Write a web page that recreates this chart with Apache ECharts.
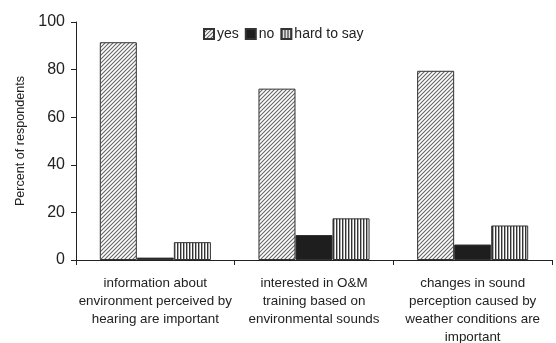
<!DOCTYPE html>
<html>
<head>
<meta charset="utf-8">
<script src="https://cdn.jsdelivr.net/npm/echarts@6/dist/echarts.min.js"></script>
<style>
html, body { margin: 0; padding: 0; background: #fff; }
#chart { width: 556px; height: 343px; }
</style>
</head>
<body>
<div id="chart"></div>
<script>
var categories = [
    'information about\nenvironment perceived by\nhearing are important',
    'interested in O&M\ntraining based on\nenvironmental sounds',
    'changes in sound\nperception caused by\nweather conditions are\nimportant'
];
var yesValues = [91.5, 72, 79.5];
var noValues = [1, 10.5, 6.5];
var hardValues = [7.5, 17.5, 14.5];
var yTicks = [0, 20, 40, 60, 80, 100];

function makePattern(kind) {
    var c = document.createElement('canvas');
    var ctx = c.getContext('2d');
    if (kind === 'diag') {
        c.width = 4; c.height = 4;
        ctx.fillStyle = '#fff';
        ctx.fillRect(0, 0, 4, 4);
        ctx.strokeStyle = '#666';
        ctx.lineWidth = 1.1;
        ctx.beginPath();
        ctx.moveTo(0, 4); ctx.lineTo(4, 0);
        ctx.moveTo(-1, 1); ctx.lineTo(1, -1);
        ctx.moveTo(3, 5); ctx.lineTo(5, 3);
        ctx.stroke();
    } else {
        c.width = 3; c.height = 3;
        ctx.fillStyle = '#fff';
        ctx.fillRect(0, 0, 3, 3);
        ctx.fillStyle = '#333';
        ctx.fillRect(0, 0, 1.4, 3);
    }
    return { image: c, repeat: 'repeat' };
}

var diag = makePattern('diag');
var vert = makePattern('vert');

var chart = echarts.init(document.getElementById('chart'));
var font = '"Liberation Sans", Arial, sans-serif';

var option = {
    animation: false,
    textStyle: { fontFamily: font, color: '#222' },
    legend: {
        left: 198,
        top: 22,
        itemWidth: 10,
        itemHeight: 10,
        itemGap: 6,
        icon: 'rect',
        textStyle: { fontSize: 14, color: '#222', padding: [0, 0, 0, -2] },
        data: ['yes', 'no', 'hard to say']
    },
    grid: { left: 76, right: 4, top: 22, bottom: 83, outerBoundsMode: 'none', containLabel: false },
    xAxis: {
        type: 'category',
        data: categories,
        axisLine: { lineStyle: { color: '#222', width: 1 } },
        axisTick: { show: true, length: 5, lineStyle: { color: '#222' } },
        axisLabel: { fontSize: 13.4, color: '#222', lineHeight: 18, margin: 14, interval: 0 }
    },
    yAxis: {
        type: 'value',
        min: yTicks[0],
        max: yTicks[yTicks.length - 1],
        interval: 20,
        name: 'Percent of respondents',
        nameLocation: 'middle',
        nameGap: 48,
        nameTextStyle: { fontSize: 12.6, color: '#222' },
        axisLine: { show: true, lineStyle: { color: '#222' } },
        axisTick: { show: true, length: 5, lineStyle: { color: '#222' } },
        axisLabel: { fontSize: 16, color: '#222', margin: 11 },
        splitLine: { show: false }
    },
    series: [
        {
            name: 'yes', type: 'bar', data: yesValues,
            barGap: '0%', barCategoryGap: '30%',
            itemStyle: { color: diag, borderColor: '#333', borderWidth: 1 }
        },
        {
            name: 'no', type: 'bar', data: noValues,
            itemStyle: { color: '#1e1e1e', borderColor: '#333', borderWidth: 1 }
        },
        {
            name: 'hard to say', type: 'bar', data: hardValues,
            itemStyle: { color: vert, borderColor: '#333', borderWidth: 1 }
        }
    ]
};

chart.setOption(option);
</script>
</body>
</html>
